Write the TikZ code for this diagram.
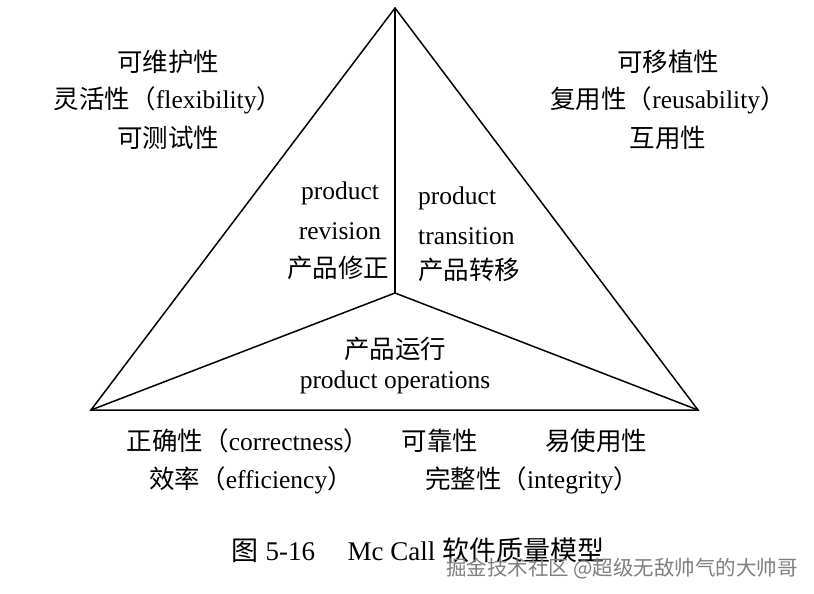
\documentclass[tikz,border=0pt]{standalone}
\usepackage{fontspec}
\setmainfont{Liberation Serif}
\newfontfamily\cjk{Noto Sans CJK SC}
\newcommand{\zh}[1]{{\cjk #1}}
\begin{document}
\begin{tikzpicture}[x=1pt,y=-1pt,
  lbl/.style={inner sep=0pt, font=\fontsize{25.5}{30}\selectfont},
  captext/.style={inner sep=0pt, font=\fontsize{27}{32}\selectfont},
  wm/.style={inner sep=0pt, font=\cjk\fontsize{20.5}{24}\selectfont, text=black!50},
  tri/.style={line width=1.5pt, line join=miter}]
\useasboundingbox[fill=white] (0,0) rectangle (814,594);
\coordinate (A) at (395,8);
\coordinate (L) at (91,410);
\coordinate (R) at (698,410);
\coordinate (C) at (395,293);
\draw[tri] (A) -- (L) -- (R) -- cycle;
\draw[tri] (A) -- (C);
\draw[tri] (L) -- (C) -- (R);
% left group
\node[lbl] (m1) at (168,62) {\zh{可维护性}};
\node[lbl] (m2) at (168,100) {\zh{灵活性（}flexibility\zh{）}};
\node[lbl] (m3) at (168,138) {\zh{可测试性}};
% right group
\node[lbl] (t1) at (668,62) {\zh{可移植性}};
\node[lbl] (t2) at (668,100) {\zh{复用性（}reusability\zh{）}};
\node[lbl] (t3) at (668,138) {\zh{互用性}};
% inner labels
\node[lbl] (r1) at (340,193) {product};
\node[lbl] (r2) at (340,231) {revision};
\node[lbl] (r3) at (338,268) {\zh{产品修正}};
\node[lbl,anchor=west] (s1) at (418,198) {product};
\node[lbl,anchor=west] (s2) at (418,236) {transition};
\node[lbl,anchor=west] (s3) at (418,270) {\zh{产品转移}};
\node[lbl] (o1) at (395,349) {\zh{产品运行}};
\node[lbl] (o2) at (395,382) {product operations};
% bottom group
\node[lbl] (b1) at (248,441) {\zh{正确性（}correctness\zh{）}};
\node[lbl] (b2) at (440,441) {\zh{可靠性}};
\node[lbl] (b3) at (596,441) {\zh{易使用性}};
\node[lbl] (b4) at (251,480) {\zh{效率（}efficiency\zh{）}};
\node[lbl] (b5) at (532,480) {\zh{完整性（}integrity\zh{）}};
% caption
\node[captext] (cp) at (418,550) {\zh{图} 5-16\hspace{1.2em}Mc Call \zh{软件质量模型}};
\node[wm] (w) at (622,569) {掘金技术社区 @超级无敌帅气的大帅哥};
\end{tikzpicture}
\end{document}
